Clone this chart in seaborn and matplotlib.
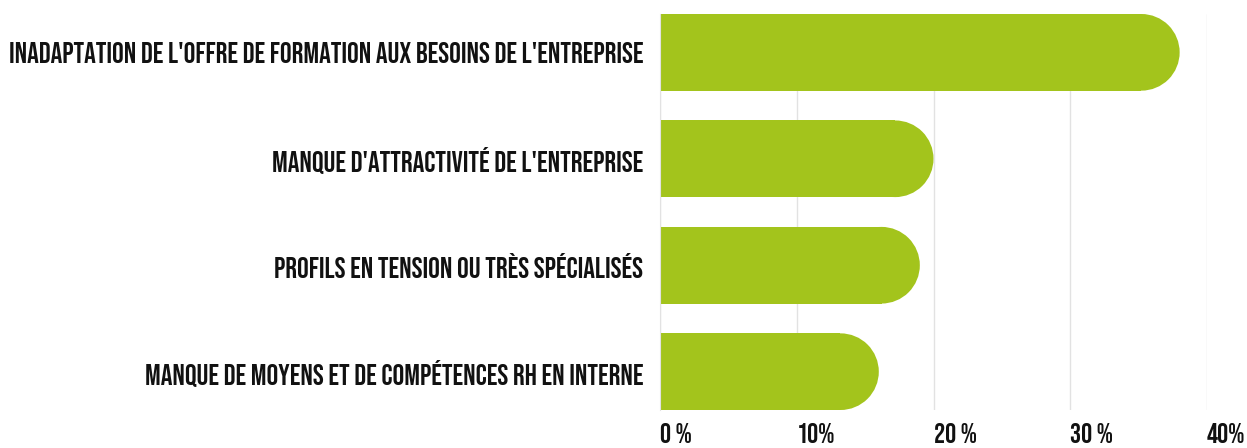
import pandas as pd
import matplotlib.pyplot as plt
import matplotlib.transforms as mtransforms
import seaborn as sns
from matplotlib.patches import Ellipse

sns.set_style('white')
plt.rcParams['font.family'] = ['Bebas Neue', 'DejaVu Sans']

categories = [
    "INADAPTATION DE L'OFFRE DE FORMATION AUX BESOINS DE L'ENTREPRISE",
    "MANQUE D'ATTRACTIVITÉ DE L'ENTREPRISE",
    "PROFILS EN TENSION OU TRÈS SPÉCIALISÉS",
    "MANQUE DE MOYENS ET DE COMPÉTENCES RH EN INTERNE",
]
values = [38, 20, 19, 16]
x_ticks = [0, 10, 20, 30, 40]
x_tick_labels = ['0 %', '10%', '20 %', '30 %', '40%']

GREEN = '#a3c41c'
BAR_W = 0.72

df = pd.DataFrame({'cause': categories, 'share': values})

fig = plt.figure(figsize=(12.47, 4.48), dpi=100)
ax = fig.add_axes([660 / 1247, 1 - 410 / 448, (1207 - 660) / 1247, (410 - 14) / 448])

sns.barplot(data=df, x='share', y='cause', orient='h', color=GREEN,
            width=BAR_W, saturation=1, ax=ax, zorder=2)

ax.set_xlim(0, 40)
ax.set_ylim(len(categories) - 1 + BAR_W / 2, -BAR_W / 2)

# round the right end of each bar (semicircle in pixel space)
bbox = ax.get_window_extent()
px_x = bbox.width / 40
px_y = bbox.height / (len(categories) - 1 + BAR_W)
for p in list(ax.patches):
    x0, y0 = p.get_x(), p.get_y()
    w, h = p.get_width(), p.get_height()
    r = (h * px_y / 2) / px_x
    p.set_width(w - r)
    p.set_linewidth(0)
    ax.add_patch(Ellipse((x0 + w - r, y0 + h / 2), 2 * r, h,
                         facecolor=GREEN, edgecolor='none', zorder=2))

ax.set_xticks(x_ticks)
ax.set_xticklabels(x_tick_labels, fontsize=20, color='#111111', ha='left')
shift = mtransforms.ScaledTranslation(-7 / 100, 0, fig.dpi_scale_trans)
for lbl in ax.get_xticklabels():
    lbl.set_transform(lbl.get_transform() + shift)
ax.tick_params(axis='x', length=0, pad=9)
ax.tick_params(axis='y', length=0, pad=12)
for lbl in ax.get_yticklabels():
    lbl.set_fontsize(21)
    lbl.set_color('#111111')

ax.grid(axis='x', color='#e2e2e2', linewidth=1, zorder=0)
ax.set_axisbelow(True)
for s in ['top', 'right', 'bottom']:
    ax.spines[s].set_visible(False)
ax.spines['left'].set_color('#e2e2e2')
ax.set_xlabel('')
ax.set_ylabel('')

fig.savefig('out.png', dpi=100)
